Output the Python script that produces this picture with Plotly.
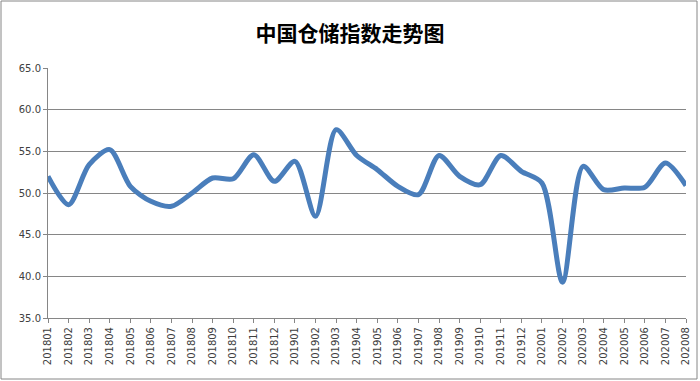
import plotly.graph_objects as go

months = ["201801","201802","201803","201804","201805","201806","201807","201808",
          "201809","201810","201811","201812","201901","201902","201903","201904",
          "201905","201906","201907","201908","201909","201910","201911","201912",
          "202001","202002","202003","202004","202005","202006","202007","202008"]
index_values = [52.0, 48.6, 53.4, 55.2, 50.8, 49.0, 48.4, 50.0,
                51.8, 51.7, 54.6, 51.4, 53.8, 47.2, 57.6, 54.5,
                52.8, 50.8, 49.8, 54.5, 52.0, 51.0, 54.5, 52.6,
                51.2, 39.3, 53.2, 50.4, 50.6, 50.7, 53.6, 50.9]
y_ticks = [35, 40, 45, 50, 55, 60, 65]
title_text = "中国仓储指数走势图"

W, H = 700, 381
ml, mr, mt, mb = 48, 14, 68, 63
pw, ph = W - ml - mr, H - mt - mb

fig = go.Figure()
fig.add_trace(go.Scatter(
    x=months, y=index_values, mode="lines",
    line=dict(color="#4A7EBB", width=5, shape="spline", smoothing=0.8),
    hoverinfo="x+y", showlegend=False,
))

fig.update_layout(
    width=W, height=H,
    margin=dict(l=ml, r=mr, t=mt, b=mb, pad=0, autoexpand=False),
    paper_bgcolor="white", plot_bgcolor="white",
    title=dict(text="<b>" + title_text + "</b>", x=0.5, xanchor="center", y=1 - 34 / H, yanchor="middle",
               font=dict(family="Noto Sans CJK SC", size=21, color="#000000")),
    font=dict(family="DejaVu Sans", size=10, color="#404040"),
    xaxis=dict(type="category", categoryorder="array", categoryarray=months,
               range=[0, len(months) - 1], showgrid=False, showline=True,
               linecolor="#868686", linewidth=1, ticks="outside", ticklen=4,
               tickcolor="#868686", tickangle=-90, tickfont=dict(size=10, color="#404040"),
               zeroline=False, fixedrange=True, automargin=False),
    yaxis=dict(range=[35, 65], tickvals=y_ticks, tickformat=".1f", showgrid=True,
               gridcolor="#868686", gridwidth=1, showline=True, linecolor="#868686",
               linewidth=1, ticks="outside", ticklen=4, tickcolor="#868686",
               tickfont=dict(size=10, color="#404040"), zeroline=False, fixedrange=True,
               automargin=False),
)

# chart-area border
fig.add_shape(type="rect", xref="paper", yref="paper",
              x0=(1 - ml) / pw, x1=(W - 3 - ml) / pw,
              y0=1 - (H - 2 - mt) / ph, y1=1 + (mt - 1) / ph,
              line=dict(color="#868686", width=1), fillcolor="rgba(0,0,0,0)", layer="below")

fig.write_html("out.html", config={"displayModeBar": False},
               post_script="document.body.style.margin='0';document.body.style.overflow='hidden';")
